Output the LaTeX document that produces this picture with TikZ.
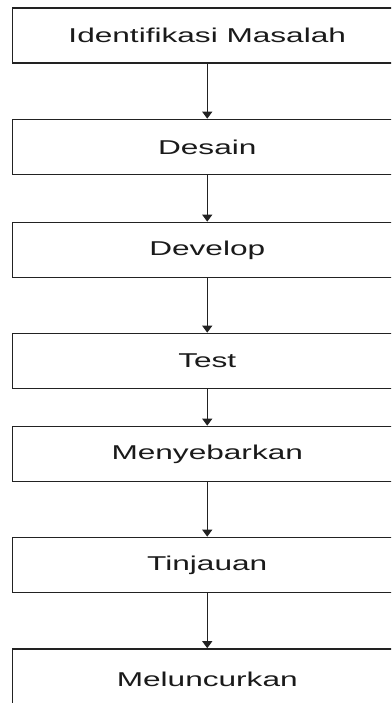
\documentclass[tikz,border=0pt]{standalone}
\usepackage{fontspec}
\setmainfont{Liberation Sans}
\usetikzlibrary{arrows.meta}
\definecolor{edge}{HTML}{222222}
\definecolor{ink}{HTML}{1A1A1A}
\newcommand{\widetext}[1]{\scalebox{1.58}[1]{#1}}
\begin{document}
\begin{tikzpicture}[x=1pt,y=-1pt,
  stepbox/.style={draw=edge, line width=1.7pt, fill=white, rectangle,
    minimum width=389.5pt, minimum height=55pt, inner sep=0pt,
    text=ink, font=\fontsize{20}{24}\selectfont},
  flow/.style={draw=edge, line width=1.3pt, -{Triangle[length=7pt,width=10pt]}}]
  \useasboundingbox (0,0) rectangle (391,703);
  \clip (0,0) rectangle (391,703);
  \fill[white] (0,0) rectangle (391,703);
  % process steps, top to bottom
  \node[stepbox] (s1) at (207.25,35.5) {\widetext{Identifikasi Masalah}};
  \node[stepbox] (s2) at (207.25,147)  {\widetext{Desain}};
  \node[stepbox] (s3) at (207.25,250)  {\widetext{Develop}};
  \node[stepbox] (s4) at (207.25,361)  {\widetext{Test}};
  \node[stepbox] (s5) at (207.25,454)  {\widetext{Menyebarkan}};
  \node[stepbox] (s6) at (207.25,565)  {\widetext{Tinjauan}};
  \node[stepbox, minimum height=66pt] (s7) at (207.25,682) {\raisebox{5pt}{\widetext{Meluncurkan}}};
  % connectors
  \draw[flow] (s1) -- (s2);
  \draw[flow] (s2) -- (s3);
  \draw[flow] (s3) -- (s4);
  \draw[flow] (s4) -- (s5);
  \draw[flow] (s5) -- (s6);
  \draw[flow] (s6) -- (s7);
\end{tikzpicture}
\end{document}
